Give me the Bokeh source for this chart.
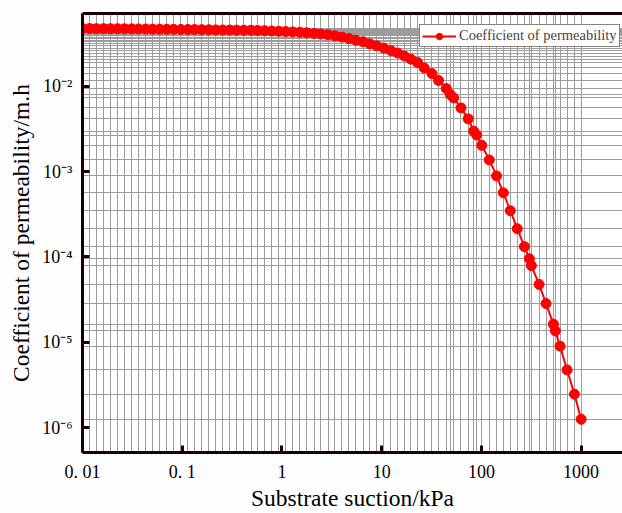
from bokeh.plotting import figure
from bokeh.models import (FixedTicker, CustomJSTickFormatter, LogAxis, Legend,
                          LegendItem, ColumnDataSource, Range1d, Span)
from bokeh.embed import file_html
from bokeh.resources import INLINE

# ---- data ----
suction = [0.01, 0.0118, 0.0138, 0.0163, 0.0191, 0.0225, 0.0264, 0.0311, 0.0365, 0.043,
           0.0505, 0.0594, 0.07, 0.082, 0.097, 0.114, 0.133, 0.157, 0.185, 0.217,
           0.255, 0.30, 0.35, 0.415, 0.49, 0.57, 0.67, 0.79, 0.93, 1.09,
           1.28, 1.51, 1.77, 2.1, 2.45, 2.9, 3.4, 4.0, 4.7, 5.5,
           6.5, 7.6, 8.9, 10.5, 12.4, 14.5, 16.9,
           19.6, 22.9, 26.7, 31.9, 37.2, 44.4, 48.7, 52.7, 62.4, 73.8,
           83.7, 89.7, 101, 120, 142, 166, 195, 229, 270, 303,
           317, 379, 445, 527, 552, 615, 723, 857, 1000]
permeability = [0.0475, 0.0475, 0.0474, 0.0474, 0.0473, 0.0473, 0.0472, 0.0471, 0.0470, 0.0469,
                0.0468, 0.0467, 0.0466, 0.0465, 0.0464, 0.0463, 0.0462, 0.0461, 0.0460, 0.0458,
                0.0457, 0.0456, 0.0455, 0.0454, 0.0453, 0.0451, 0.0448, 0.0445, 0.0441, 0.0438,
                0.0434, 0.0430, 0.0424, 0.0417, 0.0410, 0.0401, 0.0390, 0.0377, 0.0362, 0.0347,
                0.0332, 0.0314, 0.0298, 0.0280, 0.0262, 0.0245, 0.0226,
                0.0208, 0.019, 0.0164, 0.0141, 0.0117, 0.0094, 0.0080, 0.0073, 0.00558, 0.00415,
                0.00298, 0.00268, 0.00203, 0.00137, 0.00089, 0.000564, 0.000348, 0.000214, 0.000132, 9.5e-5,
                7.9e-5, 4.76e-5, 2.84e-5, 1.63e-5, 1.36e-5, 9.0e-6, 4.73e-6, 2.46e-6, 1.25e-6]
x_ticks = [0.01, 0.1, 1, 10, 100, 1000]
y_ticks = [1e-6, 1e-5, 1e-4, 1e-3, 1e-2]
x_lim = (0.01, 2600)
y_lim = (5.1e-7, 0.0713)
series_name = "Coefficient of permeability"
x_title = "Substrate suction/kPa"
y_title = "Coefficient of permeability/m.h"

FONT = "Liberation Serif"
INK = "#1a0000"

p = figure(width=622, height=513, x_axis_type="log", y_axis_type="log",
           x_range=Range1d(*x_lim), y_range=Range1d(*y_lim),
           output_backend="svg", toolbar_location=None,
           min_border_left=82, min_border_right=0, min_border_top=13, min_border_bottom=61)
p.outline_line_color = None
p.background_fill_color = "#ffffff"
p.border_fill_color = "#fefefe"

# grid lines at each data point (drop lines)
p.xgrid.ticker = FixedTicker(ticks=suction)
p.ygrid.ticker = FixedTicker(ticks=permeability)
for g in (p.xgrid, p.ygrid):
    g.grid_line_color = "#9c9c9c"
    g.grid_line_width = 1
    g.minor_grid_line_color = None

src = ColumnDataSource(dict(x=suction, y=permeability))
ln = p.line("x", "y", source=src, line_color="#ff0000", line_width=2)
sc = p.scatter("x", "y", source=src, size=10, fill_color="#ff0000", line_color="#ff0000")

# frame edges (left, bottom, top) as spans at the range limits
for loc, dim in ((x_lim[0], "height"), (y_lim[0], "width"), (y_lim[1], "width")):
    p.add_layout(Span(location=loc, dimension=dim, line_color=INK, line_width=3))

# axes
xa = p.xaxis[0]
ya = p.yaxis[0]
xa.ticker = FixedTicker(ticks=x_ticks)
ya.ticker = FixedTicker(ticks=y_ticks)
xa.formatter = CustomJSTickFormatter(code="""
    let s = String(tick);
    if (tick < 1) { s = s.replace('.', '. '); }
    return s;
""")
ya.formatter = CustomJSTickFormatter(code="""
    const e = Math.round(Math.log10(tick));
    const sup = {'-':'\u207b','0':'\u2070','1':'\u00b9','2':'\u00b2','3':'\u00b3','4':'\u2074',
                 '5':'\u2075','6':'\u2076','7':'\u2077','8':'\u2078','9':'\u2079'};
    return '10' + String(e).split('').map(c => sup[c]).join('');
""")
for ax in (xa, ya):
    ax.axis_line_width = 3
    ax.axis_line_color = INK
    ax.major_tick_in = 7
    ax.major_tick_out = 0
    ax.major_tick_line_width = 3
    ax.major_tick_line_color = INK
    ax.minor_tick_line_color = None
    ax.major_label_text_font = FONT
    ax.major_label_text_font_size = "18px"
    ax.major_label_text_color = "black"
    ax.axis_label_text_font = FONT
    ax.axis_label_text_font_size = "23.5px"
    ax.axis_label_text_font_style = "normal"
    ax.axis_label_text_color = "black"
xa.axis_label = x_title
ya.axis_label = y_title
xa.major_label_standoff = 9
ya.major_label_standoff = 10
xa.axis_label_standoff = 0
ya.axis_label_standoff = 5

top = LogAxis(ticker=FixedTicker(ticks=[]), axis_line_width=3, axis_line_color=INK,
              major_tick_line_color=None, minor_tick_line_color=None,
              major_label_standoff=0, major_label_text_font_size="0px")
p.add_layout(top, "above")

legend = Legend(items=[LegendItem(label=series_name, renderers=[ln, sc])],
                location=(337, 405), padding=2, margin=0, spacing=0,
                glyph_width=34, glyph_height=16, label_standoff=3,
                label_text_font=FONT, label_text_font_size="14.5px",
                label_height=16,
                border_line_color=INK, border_line_width=1,
                background_fill_color="white", background_fill_alpha=1)
p.add_layout(legend, "center")

open("out.html", "w").write(file_html(p, INLINE))
